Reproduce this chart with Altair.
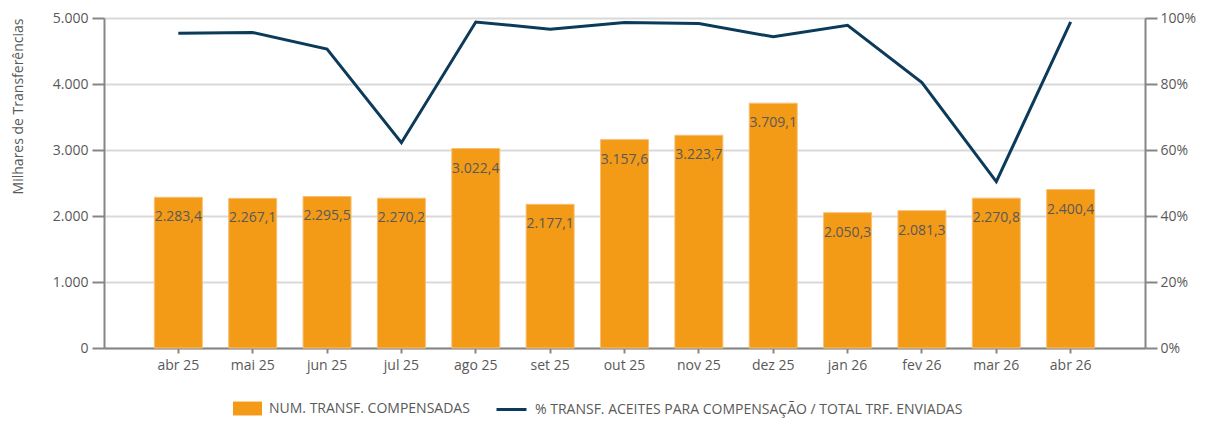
import altair as alt
import pandas as pd

months = ["abr 25", "mai 25", "jun 25", "jul 25", "ago 25", "set 25", "out 25",
          "nov 25", "dez 25", "jan 26", "fev 26", "mar 26", "abr 26"]
transfers = [2283.4, 2267.1, 2295.5, 2270.2, 3022.4, 2177.1, 3157.6,
             3223.7, 3709.1, 2050.3, 2081.3, 2270.8, 2400.4]
pct_accepted = [0.954, 0.956, 0.906, 0.622, 0.988, 0.966, 0.986,
                0.983, 0.943, 0.978, 0.804, 0.504, 0.988]

bar_name = "NUM. TRANSF. COMPENSADAS"
line_name = "% TRANSF. ACEITES PARA COMPENSAÇÃO / TOTAL TRF. ENVIADAS"

df = pd.DataFrame({
    "mes": months,
    "num": transfers,
    "pct": pct_accepted,
    "s1": bar_name,
    "s2": line_name,
})

ORANGE = "#F39A17"
NAVY = "#0B3A5B"
GREY_TXT = "#595959"
AXIS_GREY = "#868686"
FONT = "Open Sans"

x_enc = alt.X(
    "mes:N", sort=months,
    scale=alt.Scale(paddingInner=0.355, paddingOuter=0.677),
    axis=alt.Axis(title=None, labelAngle=0, labelFontSize=14, labelColor=GREY_TXT,
                  labelFont=FONT, domainColor=AXIS_GREY, domainWidth=2,
                  tickColor=AXIS_GREY, tickWidth=2, tickSize=5, labelPadding=5,
                  grid=False),
)

y_left = alt.Y(
    "num:Q",
    scale=alt.Scale(domain=[0, 5000], nice=False),
    axis=alt.Axis(title="Milhares de Transferências", values=[0, 1000, 2000, 3000, 4000, 5000],
                  format=",.0f", orient="left", labelFontSize=14, labelColor=GREY_TXT,
                  labelFont=FONT, titleFont=FONT, titleFontSize=14, titleFontWeight="normal",
                  titleColor=GREY_TXT, titleAnchor="end", titlePadding=27,
                  grid=True, gridColor="#D9D9D9", gridWidth=2,
                  domainColor=AXIS_GREY, domainWidth=2,
                  tickColor=AXIS_GREY, tickWidth=2, tickSize=12, labelPadding=4),
)

bars = alt.Chart(df).mark_bar(size=48, stroke="#F7C078", strokeWidth=1).encode(
    x=x_enc,
    y=y_left,
    color=alt.Color("s1:N", scale=alt.Scale(range=[ORANGE]),
                    legend=alt.Legend(title=None, orient="none", legendX=129, legendY=376,
                                      symbolType="M-1,-0.48H1V0.48H-1Z", symbolSize=841,
                                      symbolStrokeWidth=0, labelFontSize=14, labelFont=FONT,
                                      labelColor=GREY_TXT, labelOffset=7, padding=0,
                                      labelLimit=600)),
)

labels = alt.Chart(df).mark_text(baseline="middle", dy=20, fontSize=14, font=FONT,
                                 color=GREY_TXT).encode(
    x=alt.X("mes:N", sort=months),
    y=alt.Y("num:Q"),
    text=alt.Text("num:Q", format=",.1f"),
)

line = alt.Chart(df).mark_line(strokeWidth=3, color=NAVY).encode(
    x=alt.X("mes:N", sort=months),
    y=alt.Y("pct:Q", scale=alt.Scale(domain=[0, 1], nice=False),
            axis=alt.Axis(title=None, orient="right", values=[0, 0.2, 0.4, 0.6, 0.8, 1.0],
                          format=".0%", labelFontSize=14, labelColor=GREY_TXT, labelFont=FONT,
                          grid=False, domainColor=AXIS_GREY, domainWidth=2,
                          tickColor=AXIS_GREY, tickWidth=2, tickSize=12, labelPadding=3)),
    stroke=alt.Stroke("s2:N", scale=alt.Scale(range=[NAVY]),
                      legend=alt.Legend(title=None, orient="none", legendX=391, legendY=375,
                                        symbolType="stroke", symbolSize=900,
                                        symbolStrokeWidth=3, labelFontSize=14, labelFont=FONT,
                                        labelColor=GREY_TXT, labelOffset=7, padding=0,
                                        labelLimit=700)),
)

chart = alt.layer(alt.layer(bars, labels), line).resolve_scale(
    y="independent", color="independent", stroke="independent"
).properties(
    width=1041, height=330,
    autosize=alt.AutoSizeParams(type="none"),
    padding={"left": 96, "top": 10, "right": 52, "bottom": 70},
).configure_view(stroke=None).configure(font=FONT)

chart.save("out.html", embed_options={
    "renderer": "svg", "actions": False,
    "formatLocale": {"decimal": ",", "thousands": ".", "grouping": [3],
                     "currency": ["", " €"], "percent": "%"},
})
